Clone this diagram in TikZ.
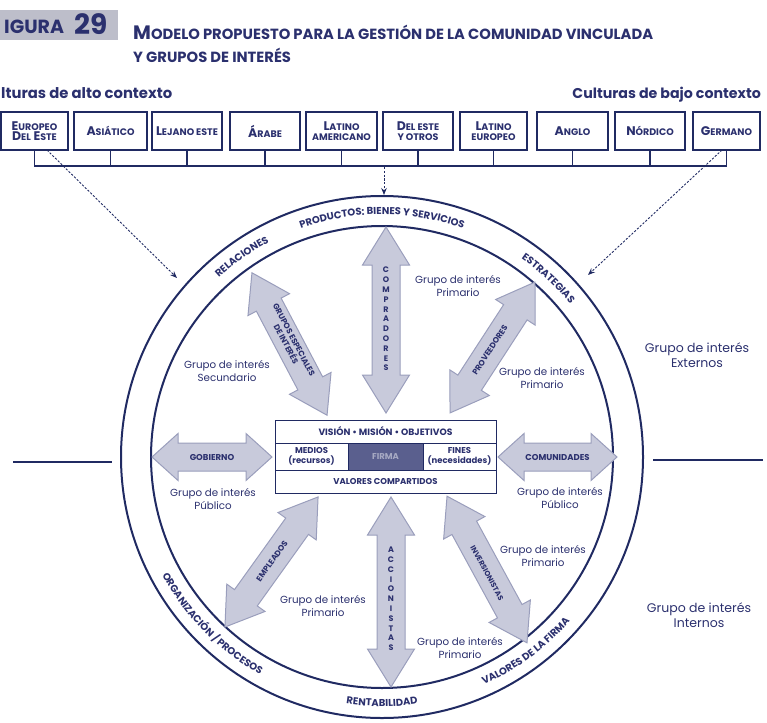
\documentclass[tikz,border=0pt]{standalone}
\usepackage{fontspec}
\setmainfont{Poppins}
\usetikzlibrary{decorations.text,arrows.meta}
\definecolor{navy}{HTML}{202A62}
\definecolor{ink}{HTML}{2B306E}
\definecolor{afill}{HTML}{C8CADB}
\definecolor{aline}{HTML}{9A9EBC}
\definecolor{firmafill}{HTML}{5A5F8E}
\definecolor{firmatext}{HTML}{A7AAC3}
\definecolor{figbox}{HTML}{BDBECA}
\newcommand\sm[1]{\scalebox{0.76}{#1}}
\newcommand\bandfont{\bfseries\fontsize{10}{10}\selectfont}
\newcommand\dbarr[5]{%
  \begin{scope}[shift={(#1,-#2)},rotate=#3]
    \pgfmathsetmacro\hl{#4/2}%
    \pgfmathsetmacro\hb{#4/2-#5}%
    \filldraw[blockarrow] (-\hl,0) -- (-\hb,23.5) -- (-\hb,14) -- (\hb,14) -- (\hb,23.5) -- (\hl,0)
      -- (\hb,-23.5) -- (\hb,-14) -- (-\hb,-14) -- (-\hb,-23.5) -- cycle;
  \end{scope}}
\begin{document}
\begin{tikzpicture}[x=1pt,y=1pt,
  blockarrow/.style={fill=afill,draw=aline,line width=1pt,line join=miter},
  cbox/.style={draw=navy,line width=2pt,minimum height=38pt,inner sep=0.5pt,align=center,text=ink,font=\bfseries\fontsize{12.5}{10.5}\selectfont},
  glabel/.style={align=center,inner sep=0pt,text=ink,font=\fontsize{10.3}{13}\selectfont},
  elabel/.style={align=center,inner sep=0pt,text=ink,font=\fontsize{12.5}{15}\selectfont},
  alabel/.style={align=center,inner sep=0pt,text=ink,font=\bfseries\fontsize{8}{9}\selectfont},
  hlabel/.style={align=center,inner sep=0pt,text=ink,font=\bfseries\fontsize{8.5}{9}\selectfont},
  stack/.style={align=center,inner sep=0pt,text=ink,font=\bfseries\fontsize{8}{9.8}\selectfont},
  fbtext/.style={align=center,inner sep=0pt,text=ink,font=\bfseries\fontsize{8.5}{9.5}\selectfont},
  ring/.style={draw=navy,line width=2pt,circle,inner sep=0pt},
  cline/.style={draw=navy,line width=1.6pt},
  dasharrow/.style={draw=navy,line width=0.9pt,dash pattern=on 2.2pt off 1.6pt,-{Stealth[length=7pt,width=5.5pt]}},
  bandtext/.style={decorate,decoration={text along path,text align=center,text color=ink,text={|\bandfont|#1}}},
]
\useasboundingbox (0,0) rectangle (767,-722);
% ---------- title ----------
\node[fill=figbox,minimum width=118pt,minimum height=30pt,anchor=north west,inner sep=0] (figbg) at (0,-10) {};
\node[anchor=base west,inner sep=0,text=ink,font=\bfseries\fontsize{19}{19}\selectfont] (fig) at (4,-34) {IGURA};
\node[anchor=base west,inner sep=0,text=ink,font=\bfseries\fontsize{28}{28}\selectfont] (fignum) at (74,-35) {29};
\node[anchor=base west,inner sep=0,text=ink,font=\bfseries\fontsize{19.4}{19.4}\selectfont] (t1) at (133,-40) {M\sm{ODELO PROPUESTO PARA LA GESTIÓN DE LA COMUNIDAD VINCULADA}};
\node[anchor=base west,inner sep=0,text=ink,font=\bfseries\fontsize{19.4}{19.4}\selectfont] (t2) at (133,-63) {\sm{Y GRUPOS DE INTERÉS}};
\node[anchor=base west,inner sep=0,text=ink,font=\bfseries\fontsize{14.8}{14.8}\selectfont] (alto) at (1,-99) {lturas de alto contexto};
\node[anchor=base east,inner sep=0,text=ink,font=\bfseries\fontsize{14.2}{14.2}\selectfont] (bajo) at (761,-99) {Culturas de bajo contexto};
% ---------- culture boxes ----------
\node[cbox,minimum width=67pt] (b1) at (34.5,-131) {E\sm{UROPEO}\\D\sm{EL} E\sm{STE}};
\node[cbox,minimum width=73pt] (b2) at (110.5,-131) {A\sm{SIÁTICO}};
\node[cbox,minimum width=70pt] (b3) at (187,-131) {L\sm{EJANO ESTE}};
\node[cbox,minimum width=70pt] (b4) at (265,-131) {Á\sm{RABE}};
\node[cbox,minimum width=71pt] (b5) at (341.5,-131) {L\sm{ATINO}\\\sm{AMERICANO}};
\node[cbox,minimum width=70pt] (b6) at (418,-131) {D\sm{EL ESTE}\\\sm{Y OTROS}};
\node[cbox,minimum width=67pt] (b7) at (493.5,-131) {L\sm{ATINO}\\\sm{EUROPEO}};
\node[cbox,minimum width=71pt] (b8) at (572.5,-131) {A\sm{NGLO}};
\node[cbox,minimum width=70pt] (b9) at (650,-131) {N\sm{ÓRDICO}};
\node[cbox,minimum width=67pt] (b10) at (726.5,-131) {G\sm{ERMANO}};
\coordinate (bus) at (0,-166);
\foreach \i in {1,...,10} \draw[cline] (b\i.south) -- (b\i.south |- bus);
\draw[cline,line cap=rect] (b1.south |- bus) -- (b10.south |- bus);
% ---------- rings ----------
\coordinate (C) at (382,-457);
\node[ring,minimum size=522pt] (outer) at (C) {};
\node[ring,minimum size=462pt] (inner) at (C) {};
% ---------- dashed arrows ----------
\coordinate (busmid) at (384,-167);
\coordinate (dl0) at (47,-150);
\coordinate (dl1) at (177,-278);
\coordinate (dr0) at (722,-150);
\coordinate (dr1) at (588,-275);
\draw[dasharrow] (busmid) -- (outer.north -| busmid);
\draw[dasharrow] (dl0) -- (dl1);
\draw[dasharrow] (dr0) -- (dr1);
% ---------- side lines ----------
\coordinate (hl0) at (13,-462);
\coordinate (hl1) at (112,-462);
\coordinate (hr0) at (653,-460);
\coordinate (hr1) at (763,-460);
\draw[cline] (hl0) -- (hl1);
\draw[cline] (hr0) -- (hr1);
% ---------- band texts ----------
\path[bandtext={PRODUCTOS: BIENES Y SERVICIOS}] ([shift={(125:242.5)}]C) arc[start angle=125,end angle=55,radius=242.5];
\path[bandtext={RELACIONES}] ([shift={(142:242.5)}]C) arc[start angle=142,end angle=108,radius=242.5];
\path[bandtext={ESTRATEGIAS}] ([shift={(64:242.5)}]C) arc[start angle=64,end angle=30,radius=242.5];
\path[bandtext={ORGANIZACIÓN / PROCESOS}] ([shift={(196:249.5)}]C) arc[start angle=196,end angle=253,radius=249.5];
\path[bandtext={RENTABILIDAD}] ([shift={(252:249.5)}]C) arc[start angle=252,end angle=288,radius=249.5];
\path[bandtext={VALORES DE LA FIRMA}] ([shift={(284:249.5)}]C) arc[start angle=284,end angle=329,radius=249.5];
% ---------- block arrows ----------
\dbarr{386}{320}{90}{186}{38}
\dbarr{391}{592}{90}{190}{38}
\dbarr{289.5}{344}{-62.2}{161}{36}
\dbarr{492.5}{347.5}{57}{156}{36}
\dbarr{271.5}{562}{54.4}{160}{36}
\dbarr{487}{569.5}{-61.4}{167}{36}
\dbarr{212}{457}{0}{120}{26}
\dbarr{557.5}{457}{0}{119}{26}
\node[stack] (compradores) at (386,-319) {C\\O\\M\\P\\R\\A\\D\\O\\R\\E\\S};
\node[stack] (accionistas) at (391,-599) {A\\C\\C\\I\\O\\N\\I\\S\\T\\A\\S};
\node[alabel,rotate=-62.2] (grupesp) at (290,-342) {GRUPOS ESPECIALES\\DE INTERÉS};
\node[alabel,rotate=57] (proveedores) at (490,-350) {PROVEEDORES};
\node[alabel,rotate=54.4] (empleados) at (272,-561) {EMPLEADOS};
\node[alabel,rotate=-61.4,font=\bfseries\fontsize{7.4}{9}\selectfont] (inversionistas) at (487,-573) {INVERSIONISTAS};
\node[hlabel] (gobierno) at (212,-457) {GOBIERNO};
\node[hlabel] (comunidades) at (557.5,-457) {COMUNIDADES};
% ---------- central box ----------
\node[draw=navy,line width=1pt,minimum width=221pt,minimum height=73pt,inner sep=0,fill=white] (firmbox) at (385.5,-456.5) {};
\fill[firmafill] (348,-443) rectangle (423,-470);
\draw[navy,line width=0.8pt] (275,-443) -- (496,-443) (275,-470) -- (496,-470) (348,-443) -- (348,-470) (423,-443) -- (423,-470);
\node[fbtext,font=\bfseries\fontsize{9.2}{9.5}\selectfont] (vmo) at (385.5,-431.5) {VISIÓN \textbullet{} MISIÓN \textbullet{} OBJETIVOS};
\node[fbtext] (medios) at (311.5,-456.5) {MEDIOS\\(recursos)};
\node[fbtext,text=firmatext] (firma) at (385.5,-456.5) {FIRMA};
\node[fbtext] (fines) at (459.5,-456.5) {FINES\\(necesidades)};
\node[fbtext] (valores) at (385.5,-481.5) {VALORES COMPARTIDOS};
% ---------- group labels ----------
\node[glabel] (g1) at (458,-286) {Grupo de interés\\Primario};
\node[glabel] (g2) at (227,-371.5) {Grupo de interés\\Secundario};
\node[glabel] (g3) at (542,-378.5) {Grupo de interés\\Primario};
\node[glabel] (g4) at (213,-499) {Grupo de interés\\Público};
\node[glabel] (g5) at (560,-498.5) {Grupo de interés\\Público};
\node[glabel] (g6) at (543,-556.5) {Grupo de interés\\Primario};
\node[glabel] (g7) at (323,-606.5) {Grupo de interés\\Primario};
\node[glabel] (g8) at (460,-648.5) {Grupo de interés\\Primario};
\node[elabel] (ext) at (697,-355.5) {Grupo de interés\\Externos};
\node[elabel] (int) at (699,-615.5) {Grupo de interés\\Internos};
\end{tikzpicture}
\end{document}
